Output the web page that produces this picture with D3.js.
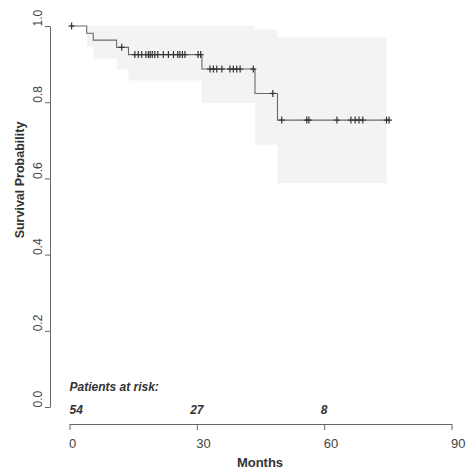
<!DOCTYPE html>
<html>
<head>
<meta charset="utf-8">
<script src="https://cdn.jsdelivr.net/npm/d3@7"></script>
<style>
    body { margin: 0; background: #fff; }
    svg { font-family: "Liberation Sans", Arial, sans-serif; }
</style>
</head>
<body>
<script>
const w = 470;
const h = 474;

// Kaplan-Meier steps (months, survival)
const stepTimes = [0, 4.05, 5.6, 11.1, 13.9, 31.2, 43.7, 49.0];
const survival  = [1.0, 0.981, 0.963, 0.944, 0.925, 0.887, 0.823, 0.753];
// 95% band, same steps
const ciLower   = [1.0, 0.946, 0.914, 0.885, 0.857, 0.798, 0.688, 0.588];
const ciUpper   = [1.0, 1.0, 1.0, 1.0, 1.0, 1.0, 0.99, 0.97];
const bandEnd = 74.7;
const curveEnd = 75.5;

// censored patients (months)
const censorTimes = [0.5, 12.3, 15.4, 16.2, 17.0, 18.0, 18.6, 19.0, 19.5, 20.1, 20.8,
    22.1, 23.3, 24.5, 25.5, 26.0, 26.6, 27.2, 30.3, 30.9,
    33.1, 33.9, 34.7, 35.9, 37.8, 38.6, 39.4, 40.2, 43.3, 47.9,
    50.0, 55.9, 56.4, 63.0, 66.3, 67.3, 68.2, 69.1, 74.7, 75.3];

const xTicks = [0, 30, 60, 90];
const yTicks = [0, 0.2, 0.4, 0.6, 0.8, 1.0];
const riskTimes = [0, 30, 60];
const riskCounts = [54, 27, 8];

function survAt(t) {
    let s = survival[0];
    for (let i = 0; i < stepTimes.length; i++) {
        if (stepTimes[i] <= t) s = survival[i];
    }
    return s;
}

const svg = d3.select("body")
    .append("svg")
    .attr("width", w)
    .attr("height", h)
    ;

const xScale = d3.scaleLinear()
    .domain([0, 90])
    .range([69.5, 451.5])
    ;

const yScale = d3.scaleLinear()
    .domain([0, 1])
    .range([407, 26])
    ;

// confidence band
const bandData = stepTimes.map((t, i) => ({t: t, lo: ciLower[i], hi: ciUpper[i]}))
    .filter(d => d.t > 0);
bandData.push({t: bandEnd, lo: ciLower[ciLower.length - 1], hi: ciUpper[ciUpper.length - 1]});

const band = d3.area()
    .curve(d3.curveStepAfter)
    .x(d => xScale(d.t))
    .y0(d => yScale(d.lo))
    .y1(d => yScale(d.hi))
    ;

svg.append("path")
    .datum(bandData)
    .attr("d", band)
    .style("fill", "#f3f3f3")
    .style("stroke", "none")
    ;

// survival curve
const curveData = stepTimes.map((t, i) => ({t: t, s: survival[i]}));
curveData.push({t: curveEnd, s: survival[survival.length - 1]});

const line = d3.line()
    .curve(d3.curveStepAfter)
    .x(d => xScale(d.t))
    .y(d => yScale(d.s))
    ;

svg.append("path")
    .datum(curveData)
    .attr("d", line)
    .style("fill", "none")
    .style("stroke", "#6a6a6a")
    .style("stroke-width", 1.1)
    ;

// censor marks
const marks = svg.append("g")
    .selectAll("g")
    .data(censorTimes)
    .enter()
    .append("g")
    .attr("transform", d => `translate(${xScale(d)},${yScale(survAt(d))})`)
    ;
marks.append("line").attr("x1", -3).attr("x2", 3).attr("y1", 0).attr("y2", 0);
marks.append("line").attr("x1", 0).attr("x2", 0).attr("y1", -3.5).attr("y2", 3.5);
marks.selectAll("line")
    .style("stroke", "#333")
    .style("stroke-width", 1.2)
    ;

// axes
const xAxis = d3.axisBottom(xScale)
    .tickValues(xTicks)
    .tickSize(6)
    .tickSizeOuter(0)
    ;

const yAxis = d3.axisLeft(yScale)
    .tickValues(yTicks)
    .tickFormat(d3.format(".1f"))
    .tickSize(5)
    .tickSizeOuter(0)
    ;

const gx = svg.append("g")
    .attr("transform", "translate(0, 424)")
    .call(xAxis)
    ;
gx.selectAll("text")
    .attr("text-anchor", "start")
    .attr("x", -1)
    .attr("y", 24)
    .attr("dy", 0)
    .style("font-size", "13px")
    .style("fill", "#444")
    ;

const gy = svg.append("g")
    .attr("transform", "translate(50, 0)")
    .call(yAxis)
    ;
gy.selectAll("text")
    .attr("transform", "rotate(-90)")
    .attr("text-anchor", "start")
    .attr("x", 0)
    .attr("y", -8)
    .attr("dy", 0)
    .style("font-size", "12px")
    .style("fill", "#444")
    ;

[gx, gy].forEach(g => {
    g.selectAll("path, line").style("stroke", "#666");
    g.attr("font-family", null);
});

// axis titles
svg.append("text")
    .attr("x", 260)
    .attr("y", 467)
    .attr("text-anchor", "middle")
    .style("font-size", "13px")
    .style("font-weight", "bold")
    .style("fill", "#333")
    .text("Months")
    ;

svg.append("text")
    .attr("transform", "translate(24, 180) rotate(-90)")
    .attr("text-anchor", "middle")
    .style("font-size", "12.5px")
    .style("font-weight", "bold")
    .style("fill", "#333")
    .text("Survival Probability")
    ;

// numbers at risk
svg.append("text")
    .attr("x", xScale(0))
    .attr("y", 391)
    .style("font-size", "12px")
    .style("font-weight", "bold")
    .style("font-style", "italic")
    .style("fill", "#333")
    .text("Patients at risk:")
    ;

svg.append("g")
    .selectAll("text")
    .data(riskTimes)
    .enter()
    .append("text")
    .attr("x", d => xScale(d))
    .attr("y", 414)
    .attr("text-anchor", (d, i) => i === 0 ? "start" : "middle")
    .style("font-size", "12px")
    .style("font-weight", "bold")
    .style("font-style", "italic")
    .style("fill", "#333")
    .text((d, i) => riskCounts[i])
    ;
</script>
</body>
</html>
